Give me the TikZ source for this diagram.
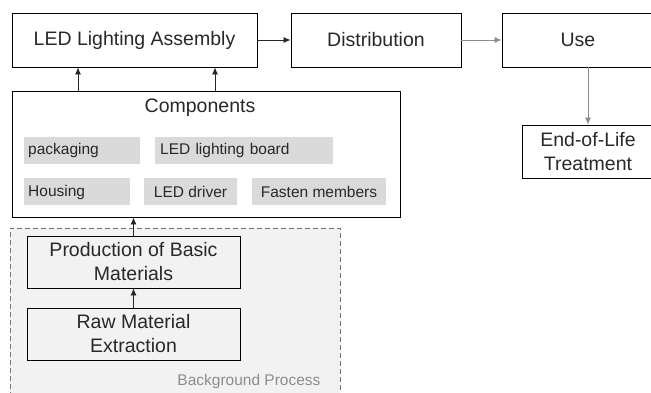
\documentclass[tikz,border=0pt]{standalone}
\usepackage{fontspec}
\setmainfont{Liberation Sans}
\usepackage{tikz}
\usetikzlibrary{arrows}
\usetikzlibrary{arrows.meta}
\usepackage{xcolor}
\definecolor{txtgray}{RGB}{40,40,40}
\definecolor{partfill}{RGB}{218,218,218}
\definecolor{bgfill}{RGB}{242,242,242}
\definecolor{bgtext}{RGB}{140,140,140}

\begin{document}
\begin{tikzpicture}[x=1pt,y=-1pt]
\tikzset{>={Latex[width=6pt,length=7pt]}}
\tikzstyle{stage} =[draw, line width=0.9pt, inner sep=0pt, text=txtgray, align=center, font=\fontsize{19.5}{24}\selectfont]
\tikzstyle{part} =[fill=partfill, inner sep=0pt, minimum height=27pt, text=txtgray, font=\fontsize{15.5}{18}\selectfont]
\tikzstyle{flow} =[->, line width=0.8pt, black!85]
\useasboundingbox (0,0) rectangle (651,393);

% background process
\node[draw=black!55, dash pattern=on 5pt off 3pt, line width=0.8pt, fill=bgfill, minimum width=330pt, minimum height=176pt, inner sep=0pt](bg) at (175,316){};
\node[text=bgtext, font=\fontsize{15.5}{18}\selectfont, anchor=base east](bglabel) at (324,385){Background Process};

% life cycle stages
\node[stage, minimum width=245pt, minimum height=54pt](asm) at (134.5,40){LED Lighting Assembly};
\node[stage, minimum width=170pt, minimum height=54pt](dist) at (376,40){Distribution};
\node[stage, minimum width=152pt, minimum height=54pt](use) at (578,40){Use};
\node[stage, minimum width=132pt, minimum height=53pt](eol) at (588,151.5){End-of-Life\\Treatment};
\node[stage, minimum width=213pt, minimum height=52pt](prod) at (133.5,262){Production of Basic\\Materials};
\node[stage, minimum width=213pt, minimum height=52pt](raw) at (133.5,334){Raw Material\\Extraction};

% components
\node[stage, fill=white, minimum width=388pt, minimum height=126pt](comp) at (206,154){};
\node[text=txtgray, font=\fontsize{19.5}{24}\selectfont](comptitle) at (200,108){Components};
\node[part, minimum width=116pt, anchor=west, text width=108pt](pkg) at (24,150.5){packaging};
\node[part, minimum width=178pt, anchor=west, text width=168pt](board) at (155,150.5){LED lighting board};
\node[part, minimum width=106pt, anchor=west, text width=98pt](house) at (24,192){Housing};
\node[part, minimum width=93pt](driver) at (190.5,192){LED driver};
\node[part, minimum width=134pt](fasten) at (319,192){Fasten members};

% connectors
\coordinate (ca) at (78,91);
\coordinate (cb) at (215,91);
\draw[flow] (ca) -- (ca |- asm.south);
\draw[flow] (cb) -- (cb |- asm.south);
\draw[flow] (asm) -- (dist);
\draw[flow, draw=black!45] (dist) -- (use);
\draw[flow, draw=black!45] (eol.north |- use.south) -- (eol.north);
\draw[flow] (prod.north) -- (prod.north |- comp.south);
\draw[flow] (raw) -- (prod);
\end{tikzpicture}
\end{document}
